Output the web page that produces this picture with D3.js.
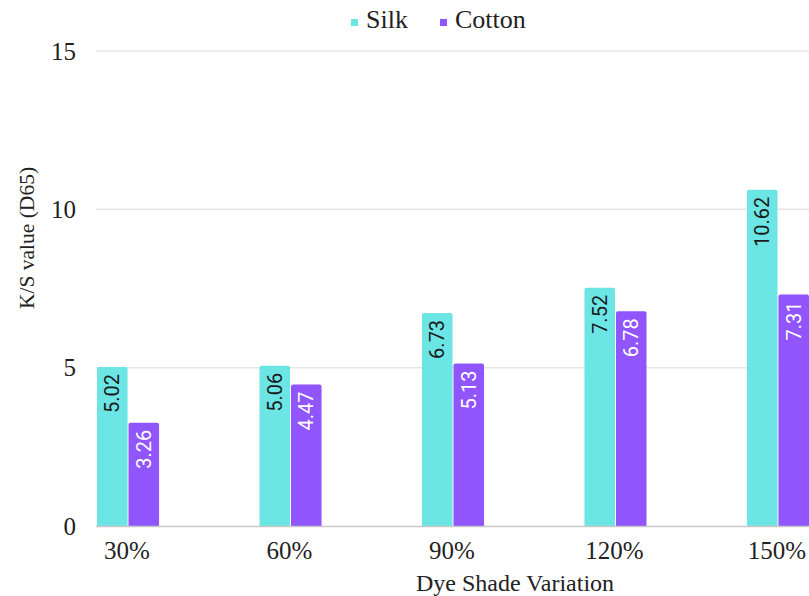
<!DOCTYPE html>
<html><head><meta charset="utf-8">
<script src="https://cdn.jsdelivr.net/npm/d3@7"></script>
<style>body{margin:0;background:#fff;}svg{display:block;}</style>
</head><body><svg id="c" width="809" height="596"></svg>
<script>
const categories = ["30%", "60%", "90%", "120%", "150%"];
const seriesNames = ["Silk", "Cotton"];
const silk = [5.02, 5.06, 6.73, 7.52, 10.62];
const cotton = [3.26, 4.47, 5.13, 6.78, 7.31];
const yTicks = [0, 5, 10, 15];
const colors = {Silk: "#6ce5e5", Cotton: "#9155fd"};
const labelColors = {Silk: "#1a1a1a", Cotton: "#ffffff"};

const svg = d3.select("#c");
const serif = "'Liberation Serif', 'Times New Roman', serif";
const sans = "Roboto, 'Liberation Sans', Arial, sans-serif";

const x0 = d3.scaleBand().domain(categories).range([97, 809]).paddingInner(0.618).paddingOuter(0);
const x1 = d3.scaleBand().domain(seriesNames).range([0, x0.bandwidth()]).paddingInner(0.03);
const y = d3.scaleLinear().domain([0, 15]).range([526, 51]);

// gridlines
svg.append("g").selectAll("line").data(yTicks.filter(d => d > 0)).join("line")
  .attr("x1", 96).attr("x2", 809)
  .attr("y1", d => y(d)).attr("y2", d => y(d))
  .attr("stroke", "#e6e6e6").attr("stroke-width", 1.5);

// y tick labels
svg.append("g").selectAll("text").data(yTicks).join("text")
  .attr("x", 76).attr("y", d => y(d)).attr("dy", "0.35em")
  .attr("text-anchor", "end").attr("font-family", serif).attr("font-size", 25)
  .attr("fill", "#222").text(d => d);

const data = categories.map((c, i) => ({cat: c, values: [{s: "Silk", v: silk[i]}, {s: "Cotton", v: cotton[i]}]}));

const groups = svg.append("g").selectAll("g").data(data).join("g")
  .attr("transform", d => `translate(${x0(d.cat)},0)`);

groups.selectAll("path").data(d => d.values).join("path")
  .attr("fill", d => colors[d.s])
  .attr("d", d => {
    const xa = x1(d.s), w = x1.bandwidth(), yt = y(d.v), yb = y(0), r = 2;
    return `M${xa},${yb}V${yt + r}Q${xa},${yt} ${xa + r},${yt}H${xa + w - r}Q${xa + w},${yt} ${xa + w},${yt + r}V${yb}Z`;
  });

groups.selectAll("text").data(d => d.values).join("text")
  .attr("transform", d => `translate(${x1(d.s) + x1.bandwidth() / 2},${y(d.v) + 7}) rotate(-90)`)
  .attr("text-anchor", "end").attr("dominant-baseline", "central")
  .attr("font-family", sans).attr("font-size", 20)
  .attr("fill", d => labelColors[d.s]).text(d => d.v.toFixed(2));

// baseline
svg.append("line").attr("x1", 96).attr("x2", 809).attr("y1", y(0) + 0.5).attr("y2", y(0) + 0.5)
  .attr("stroke", "#c8c8c8").attr("stroke-width", 1.5);

// x tick labels
svg.append("g").selectAll("text").data(categories).join("text")
  .attr("x", d => x0(d) + x0.bandwidth() / 2 - 1).attr("y", 559)
  .attr("text-anchor", "middle").attr("font-family", serif).attr("font-size", 25)
  .attr("fill", "#222").text(d => d);

// axis titles
svg.append("text").attr("x", 515).attr("y", 591).attr("text-anchor", "middle")
  .attr("font-family", serif).attr("font-size", 24).attr("fill", "#222").text("Dye Shade Variation");
svg.append("text").attr("transform", "translate(34,238) rotate(-90)").attr("text-anchor", "middle")
  .attr("font-family", serif).attr("font-size", 21.5).attr("fill", "#222").text("K/S value (D65)");

// legend
const leg = svg.append("g");
const legX = [351, 440];
seriesNames.forEach((s, i) => {
  leg.append("rect").attr("x", legX[i]).attr("y", 19).attr("width", 7).attr("height", 7).attr("fill", colors[s]);
  leg.append("text").attr("x", legX[i] + 15).attr("y", 28).attr("font-family", serif).attr("font-size", 26)
    .attr("fill", "#222").text(s);
});
</script></body></html>
